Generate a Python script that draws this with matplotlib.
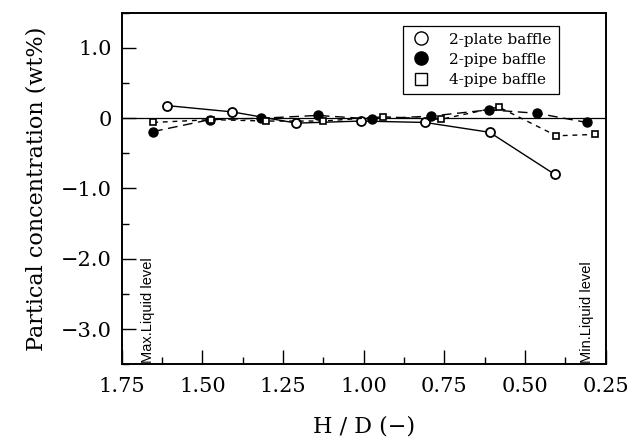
import numpy as np
import matplotlib
matplotlib.use("Agg")
import matplotlib.pyplot as plt
from matplotlib.ticker import MultipleLocator

# H/D positions and particle concentration for each baffle type
hd_plate2 = [1.61, 1.407, 1.209, 1.010, 0.810, 0.610, 0.408]
conc_plate2 = [0.18, 0.09, -0.07, -0.04, -0.06, -0.20, -0.80]

hd_pipe2 = [1.653, 1.477, 1.317, 1.143, 0.975, 0.793, 0.611, 0.462, 0.309]
conc_pipe2 = [-0.19, -0.02, 0.0, 0.04, -0.01, 0.03, 0.12, 0.07, -0.06]

hd_pipe4 = [1.653, 1.472, 1.302, 1.126, 0.939, 0.760, 0.582, 0.403, 0.282]
conc_pipe4 = [-0.06, -0.02, -0.04, -0.04, 0.02, -0.015, 0.16, -0.25, -0.23]

x_ticks = [1.75, 1.50, 1.25, 1.00, 0.75, 0.50, 0.25]
x_ticklabels = ["1.75", "1.50", "1.25", "1.00", "0.75", "0.50", "0.25"]
y_ticks = [1.0, 0.0, -1.0, -2.0, -3.0]
y_ticklabels = ["1.0", "0", "\u22121.0", "\u22122.0", "\u22123.0"]

serif = "DejaVu Serif"

fig = plt.figure(figsize=(6.41, 4.43), dpi=100)
ax = fig.add_axes([0.190, 0.178, 0.755, 0.793])

ax.axhline(0.0, color="black", lw=0.9, zorder=1)

ax.plot(hd_plate2, conc_plate2, color="black", lw=1.0, ls="-",
        marker="o", ms=6.5, mfc="white", mec="black", mew=1.3,
        label="2-plate baffle", zorder=3)
ax.plot(hd_pipe2, conc_pipe2, color="black", lw=1.0, dashes=(7, 4),
        marker="o", ms=6.5, mfc="black", mec="black",
        label="2-pipe baffle", zorder=4)
ax.plot(hd_pipe4, conc_pipe4, color="black", lw=1.0, dashes=(3.5, 3.5),
        marker="s", ms=5, mfc="white", mec="black", mew=1.2,
        label="4-pipe baffle", zorder=5)

ax.set_xlim(1.75, 0.25)
ax.set_ylim(-3.5, 1.5)

ax.set_xticks(x_ticks)
ax.set_xticklabels(x_ticklabels, fontfamily=serif, fontsize=15)
ax.xaxis.set_minor_locator(MultipleLocator(0.125))
ax.set_yticks(y_ticks)
ax.set_yticklabels(y_ticklabels, fontfamily=serif, fontsize=15)
ax.yaxis.set_minor_locator(MultipleLocator(0.5))

ax.tick_params(which="major", direction="in", length=10, width=1.0,
               top=False, right=False)
ax.tick_params(which="minor", direction="in", length=5, width=1.0,
               top=False, right=False)
ax.tick_params(axis="x", which="major", pad=9)
ax.tick_params(axis="y", which="major", pad=7)

for side in ax.spines.values():
    side.set_linewidth(1.4)

ax.set_xlabel("H / D (\u2212)", fontfamily=serif, fontsize=16, labelpad=14)
ax.set_ylabel("Partical concentration (wt%)", fontfamily=serif, fontsize=16,
              labelpad=10)

ax.text(1.668, -3.48, "Max.Liquid level", rotation=90, ha="center",
        va="bottom", fontsize=10.5, fontfamily="Liberation Sans")
ax.text(0.309, -3.48, "Min.Liquid level", rotation=90, ha="center",
        va="bottom", fontsize=10.5, fontfamily="Liberation Sans")

leg = ax.legend(loc="upper left", bbox_to_anchor=(0.565, 0.985),
                prop={"family": serif, "size": 11}, frameon=True,
                fancybox=False, edgecolor="black", framealpha=1.0,
                handlelength=1.5, handletextpad=1.1, borderpad=0.45,
                labelspacing=0.4)
leg.get_frame().set_linewidth(0.9)
# legend shows bigger marker glyphs only, without line segments
for line, size in zip(leg.get_lines(), [9.5, 9.5, 8.5]):
    line.set_linestyle("none")
    line.set_markersize(size)
    line.set_markeredgewidth(1.0)

fig.savefig("out.png", dpi=100)
